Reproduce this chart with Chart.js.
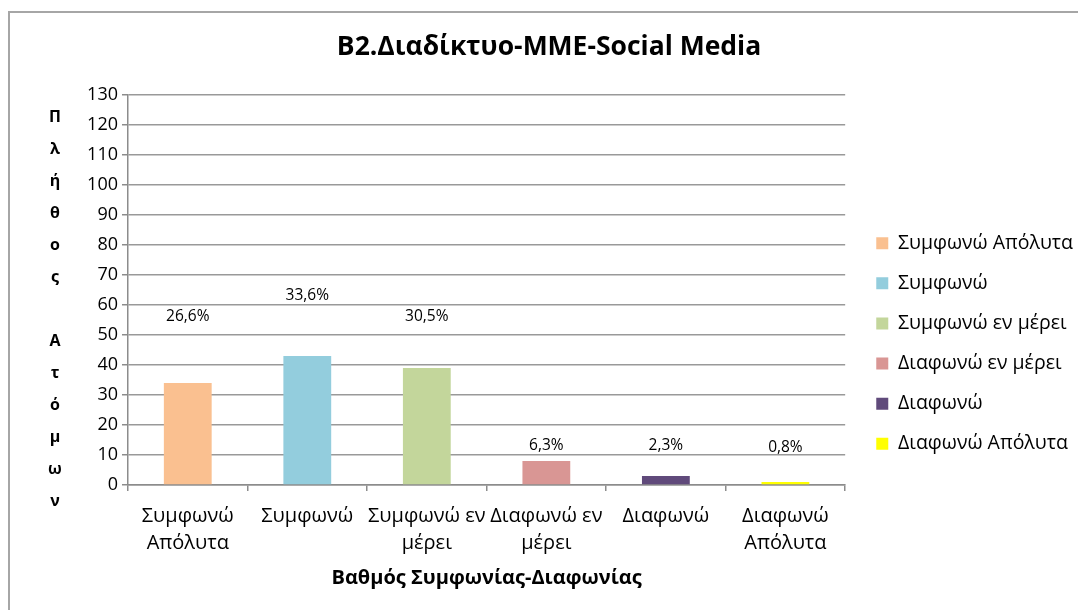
<!DOCTYPE html>
<html>
<head>
<meta charset="utf-8">
<script src="https://cdn.jsdelivr.net/npm/chart.js@4.4.1/dist/chart.umd.min.js"></script>
<style>
  html, body { margin: 0; padding: 0; background: #fff; overflow: hidden; }
  #wrap { position: relative; width: 1078px; height: 610px; }
  #frame { position: absolute; left: 8px; top: 11px; width: 1200px; height: 800px; border: 2px solid #a6a6a6; }
  canvas { position: absolute; left: 0; top: 0; }
</style>
</head>
<body>
<div id="wrap">
  <canvas id="myChart" width="1078" height="610"></canvas>
  <div id="frame"></div>
</div>
<script>
"use strict";

// data
let categories = ['Συμφωνώ Απόλυτα', 'Συμφωνώ', 'Συμφωνώ εν μέρει', 'Διαφωνώ εν μέρει', 'Διαφωνώ', 'Διαφωνώ Απόλυτα'];
let tickLabels = [['Συμφωνώ', 'Απόλυτα'], 'Συμφωνώ', ['Συμφωνώ εν', 'μέρει'], ['Διαφωνώ εν', 'μέρει'], 'Διαφωνώ', ['Διαφωνώ', 'Απόλυτα']];
let counts = [34, 43, 39, 8, 3, 1];
let percentLabels = ['26,6%', '33,6%', '30,5%', '6,3%', '2,3%', '0,8%'];
// where excel left each percent label, in axis units
let labelAt = [56, 63, 56, 13.3, 13, 12.4];
let barColors = ['#fac090', '#93cddd', '#c3d69b', '#d99694', '#604a7b', '#ffff00'];

let fontFamily = "'Open Sans', 'Noto Sans', sans-serif";

let percentPlugin = {
  id: 'percentLabels',
  afterDatasetsDraw(chart) {
    let ctx = chart.ctx;
    let meta = chart.getDatasetMeta(0);
    let yScale = chart.scales.y;
    ctx.save();
    ctx.font = '15.5px ' + fontFamily;
    ctx.fillStyle = '#000';
    ctx.textAlign = 'center';
    ctx.textBaseline = 'middle';
    meta.data.forEach(function(bar, i) {
      ctx.fillText(percentLabels[i], bar.x, yScale.getPixelForValue(labelAt[i]));
    });
    ctx.restore();
  }
};

// excel stacks the y title one letter per line
let yTitlePlugin = {
  id: 'stackedYTitle',
  afterDraw(chart) {
    let ctx = chart.ctx;
    let letters = Array.from('Πλήθος Ατόμων');
    ctx.save();
    ctx.font = 'bold 16px ' + fontFamily;
    ctx.fillStyle = '#000';
    ctx.textAlign = 'center';
    ctx.textBaseline = 'middle';
    for (let i = 0; i < letters.length; i++) {
      ctx.fillText(letters[i], 55, 117 + i * 32);
    }
    ctx.restore();
  }
};

let chartObject = {
  type: 'bar',
  data: {
    labels: tickLabels,
    datasets: [{
      label: 'Πλήθος Ατόμων',
      data: counts,
      backgroundColor: barColors,
      borderWidth: 0,
      barPercentage: 0.4,
      categoryPercentage: 1
    }]
  },
  options: {
    responsive: false,
    animation: false,
    layout: { padding: { left: 15, right: -5, top: 0, bottom: 18 } },
    plugins: {
      tooltip: { enabled: false },
      title: {
        display: true,
        text: 'B2.Διαδίκτυο-MME-Social Media',
        color: '#000',
        font: { family: fontFamily, size: 26.5, weight: 'bold' },
        padding: { top: 32, bottom: 31 }
      },
      legend: {
        position: 'right',
        align: 'center',
        maxWidth: 300,
        onClick: null,
        title: { display: true, text: ' ', padding: { top: 80.6, bottom: 0 } },
        labels: {
          boxWidth: 12,
          boxHeight: 12,
          padding: 20.6,
          color: '#000',
          font: { family: fontFamily, size: 19.5 },
          generateLabels: function() {
            return categories.map(function(name, i) {
              return { text: name, fillStyle: barColors[i], strokeStyle: barColors[i], fontColor: '#000', lineWidth: 0, hidden: false, index: i, datasetIndex: 0 };
            });
          }
        }
      }
    },
    scales: {
      x: {
        grid: { drawOnChartArea: false, offset: true, tickLength: 6, color: '#8c8c8c', lineWidth: 1.5 },
        border: { color: '#8c8c8c', width: 1.5 },
        ticks: { color: '#000', padding: 11.5, maxRotation: 0, autoSkip: false, font: { family: fontFamily, size: 20, lineHeight: '27px' } },
        title: {
          display: true,
          text: 'Βαθμός Συμφωνίας-Διαφωνίας',
          color: '#000',
          font: { family: fontFamily, size: 20, weight: 'bold', lineHeight: 1 },
          padding: { top: 0, bottom: 4 }
        }
      },
      y: {
        min: 0,
        max: 130,
        afterFit: function(scale) { scale.width = 113; },
        grid: { color: '#999999', lineWidth: 1.5, tickLength: 6, tickColor: '#8c8c8c' },
        border: { color: '#8c8c8c', width: 1.5 },
        ticks: { stepSize: 10, color: '#000', padding: 4, font: { family: fontFamily, size: 18 } }
      },
      // empty spacer between the plot and the legend
      gap: {
        type: 'linear',
        position: 'right',
        afterFit: function(scale) { scale.width = 10.5; },
        grid: { display: false },
        border: { display: false },
        ticks: { display: false }
      }
    }
  },
  plugins: [percentPlugin, yTitlePlugin]
};

let ctx = document.getElementById('myChart').getContext('2d');
let myChart = new Chart(ctx, chartObject);
</script>
</body>
</html>
